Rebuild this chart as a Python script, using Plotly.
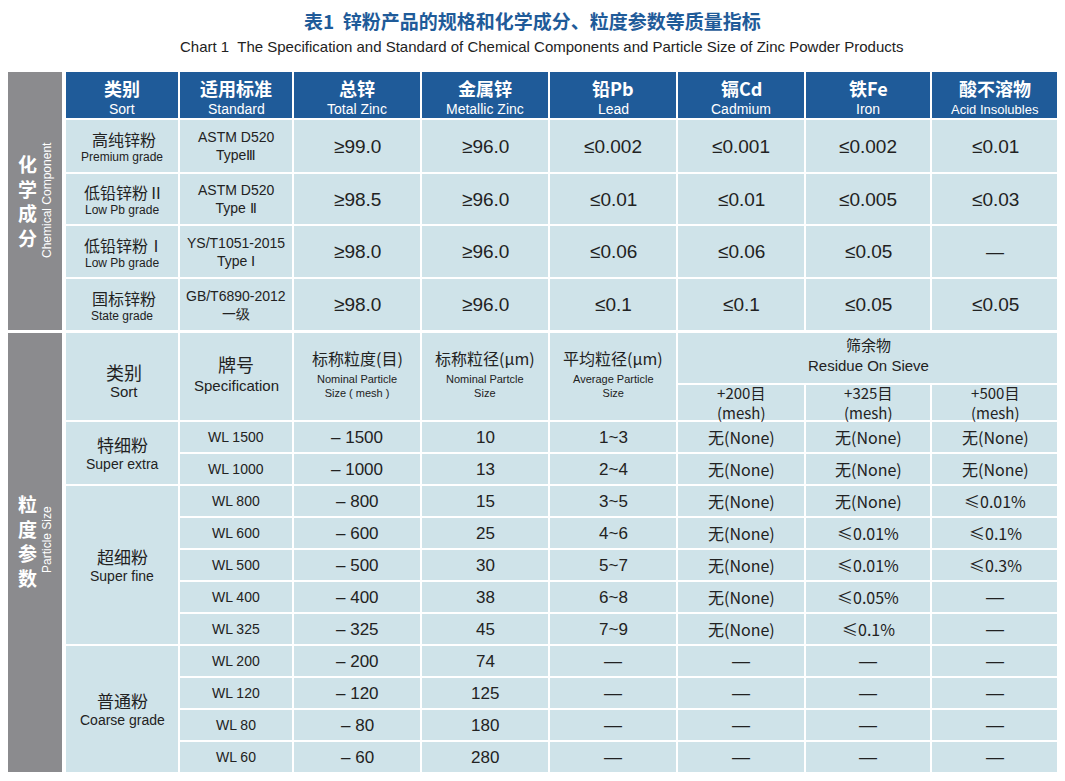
import plotly.graph_objects as go

title_cn = "表1  锌粉产品的规格和化学成分、粒度参数等质量指标"
title_en = "Chart 1  The Specification and Standard of Chemical Components and Particle Size of Zinc Powder Products"

chem_head_cn = ["类别", "适用标准", "总锌", "金属锌", "铅Pb", "镉Cd", "铁Fe", "酸不溶物"]
chem_head_en = ["Sort", "Standard", "Total Zinc", "Metallic Zinc", "Lead", "Cadmium", "Iron", "Acid Insolubles"]
chem_sort_cn = ["高纯锌粉", "低铅锌粉Ⅱ", "低铅锌粉Ⅰ", "国标锌粉"]
chem_sort_en = ["Premium grade", "Low Pb grade", "Low Pb grade", "State grade"]
chem_std = ["ASTM D520<br>TypeⅢ", "ASTM D520<br>Type Ⅱ", "YS/T1051-2015<br>Type Ⅰ", "GB/T6890-2012<br>一级"]
total_zinc = ["≥99.0", "≥98.5", "≥98.0", "≥98.0"]
metallic_zinc = ["≥96.0", "≥96.0", "≥96.0", "≥96.0"]
lead = ["≤0.002", "≤0.01", "≤0.06", "≤0.1"]
cadmium = ["≤0.001", "≤0.01", "≤0.06", "≤0.1"]
iron = ["≤0.002", "≤0.005", "≤0.05", "≤0.05"]
acid_insol = ["≤0.01", "≤0.03", "—", "≤0.05"]

part_groups_cn = ["特细粉", "超细粉", "普通粉"]
part_groups_en = ["Super extra", "Super fine", "Coarse grade"]
part_group_rows = [2, 5, 4]
part_spec = ["WL 1500", "WL 1000", "WL 800", "WL 600", "WL 500", "WL 400", "WL 325", "WL 200", "WL 120", "WL 80", "WL 60"]
part_mesh = ["– 1500", "– 1000", "– 800", "– 600", "– 500", "– 400", "– 325", "– 200", "– 120", "– 80", "– 60"]
part_nominal = ["10", "13", "15", "25", "30", "38", "45", "74", "125", "180", "280"]
part_avg = ["1~3", "2~4", "3~5", "4~6", "5~7", "6~8", "7~9", "—", "—", "—", "—"]
sieve_200 = ["无(None)"] * 7 + ["—"] * 4
sieve_325 = ["无(None)", "无(None)", "无(None)", "≤0.01%", "≤0.01%", "≤0.05%", "≤0.1%", "—", "—", "—", "—"]
sieve_500 = ["无(None)", "无(None)", "≤0.01%", "≤0.1%", "≤0.3%", "—", "—", "—", "—", "—", "—"]

W, H = 1065, 781
OFF = 8  # page body margin compensation
BLUE = "#1f5b99"
CELL = "#cfe3e9"
GRAY = "#8b8b8e"
TXT = "#222222"
CN = "Noto Sans CJK SC"
EN = "Liberation Sans"

cols = [(66, 178), (180, 292), (294, 420), (422, 548), (550, 676), (678, 804), (806, 930), (932, 1058)]
chem_rows = [(120, 172), (174, 224), (226, 277), (279, 330)]
shapes, ann = [], []

def rect(x0, y0, x1, y1, c):
    shapes.append(dict(type="rect", xref="x", yref="y", x0=x0, x1=x1, y0=y0, y1=y1,
                       fillcolor=c, line=dict(width=0), layer="below"))

def text(x, y, t, size=15, color=TXT, font=CN, angle=0, bold=False):
    if t == "—":
        font, size = EN, 18
    if bold:
        t = "<b>" + t + "</b>"
    ann.append(dict(x=x, y=y, xref="x", yref="y", text=t, showarrow=False, textangle=angle,
                    font=dict(size=size, color=color, family=font), xanchor="center", yanchor="middle"))

text(W / 2, 20, title_cn, 19, "#1f5b99", CN, bold=True)
text(541, 46, title_en, 15, "#222222", EN)

rect(8, 72, 62, 330, GRAY)
rect(8, 333, 62, 772, GRAY)
text(27, 200, "<br>".join("化学成分"), 19, "white", CN, bold=True)
text(47, 200, "Chemical Component", 12, "white", EN, angle=-90)
text(27, 540, "<br>".join("粒度参数"), 19, "white", CN, bold=True)
text(47, 540, "Particle Size", 12, "white", EN, angle=-90)

for i, (x0, x1) in enumerate(cols):
    rect(x0, 72, x1, 118, BLUE)
    text((x0 + x1) / 2, 88, chem_head_cn[i], 18, "white", CN, bold=True)
    text((x0 + x1) / 2, 109, chem_head_en[i], 14 if i < 7 else 13, "white", EN)

chem_vals = [total_zinc, metallic_zinc, lead, cadmium, iron, acid_insol]
for r, (y0, y1) in enumerate(chem_rows):
    ym = (y0 + y1) / 2
    for i, (x0, x1) in enumerate(cols):
        rect(x0, y0, x1, y1, CELL)
    text(124, ym - 7, chem_sort_cn[r], 16)
    text(122, ym + 11, chem_sort_en[r], 12, font=EN)
    text(236, ym, chem_std[r], 14, font=EN)
    for j, arr in enumerate(chem_vals):
        x0, x1 = cols[j + 2]
        text((x0 + x1) / 2, ym, arr[r], 19, font=EN)

ph0, ph1 = 333, 420
for i in range(5):
    x0, x1 = cols[i]
    rect(x0, ph0, x1, ph1, CELL)
rect(678, ph0, 1058, 383, CELL)
text(868, 344, "筛余物", 15)
text(868, 365, "Residue On Sieve", 15, font=EN)
for k, lab in enumerate(["+200目", "+325目", "+500目"]):
    x0, x1 = cols[5 + k]
    rect(x0, 385, x1, ph1, CELL)
    text((x0 + x1) / 2, 402, lab + "<br>(mesh)", 15)
text(124, 372, "类别", 18)
text(124, 391, "Sort", 15, font=EN)
text(236, 364, "牌号", 18)
text(236, 385, "Specification", 15, font=EN)
ph_cn = ["标称粒度(目)", "标称粒径(μm)", "平均粒径(μm)"]
ph_en = ["Nominal Particle<br>Size ( mesh )", "Nominal Partcle<br>Size", "Average Particle<br>Size"]
for k in range(3):
    x0, x1 = cols[2 + k]
    text((x0 + x1) / 2, 358, ph_cn[k], 16)
    text((x0 + x1) / 2, 386, ph_en[k], 11, font=EN)

top, rh = 422, 32.0
row_vals = [part_spec, part_mesh, part_nominal, part_avg, sieve_200, sieve_325, sieve_500]
for r in range(len(part_spec)):
    y0 = top + r * rh
    y1 = y0 + rh - 2
    ym = (y0 + y1) / 2
    for j, arr in enumerate(row_vals):
        x0, x1 = cols[j + 1]
        rect(x0, y0, x1, y1, CELL)
        size = 14 if j == 0 else (16 if j >= 4 else 17)
        fnt = EN if j in (0, 1, 2, 3) else CN
        text((x0 + x1) / 2, ym, arr[r], size, font=fnt)
start = 0
for g, n in enumerate(part_group_rows):
    y0 = top + start * rh
    y1 = top + (start + n) * rh - 2
    rect(66, y0, 178, y1, CELL)
    ym = (y0 + y1) / 2
    text(122, ym - 9, part_groups_cn[g], 17)
    text(122, ym + 11, part_groups_en[g], 14, font=EN)
    start += n

fig = go.Figure()
fig.update_layout(width=W, height=H, margin=dict(l=0, r=0, t=0, b=0),
                  plot_bgcolor="white", paper_bgcolor="white", shapes=shapes, annotations=ann,
                  xaxis=dict(range=[OFF, W + OFF], visible=False, fixedrange=True),
                  yaxis=dict(range=[H + OFF, OFF], visible=False, fixedrange=True), showlegend=False)
fig.write_html("out.html", config=dict(displayModeBar=False))
